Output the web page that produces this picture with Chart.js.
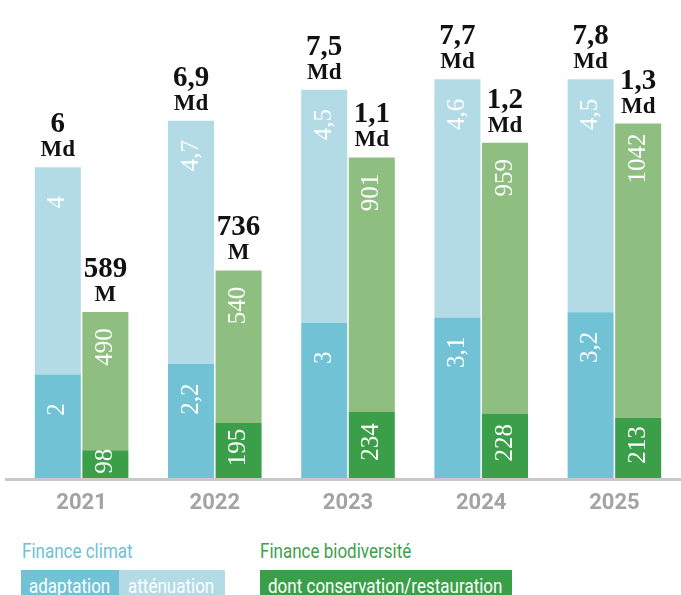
<!DOCTYPE html>
<html><head><meta charset="utf-8">
<script src="https://cdn.jsdelivr.net/npm/chart.js@4.4.1/dist/chart.umd.min.js"></script>
<style>
html,body{margin:0;padding:0;background:#fff;width:681px;height:595px;overflow:hidden;position:relative}
#c{position:absolute;left:0;top:0}
.t{position:absolute;font-family:Roboto;font-size:21px;line-height:21px;white-space:nowrap;transform:scaleX(0.81);transform-origin:0 0}
.box{position:absolute;top:570px;height:30px;overflow:hidden}
</style></head><body>
<canvas id="c" width="681" height="525"></canvas>
<div class="t" style="left:22px;top:541px;color:#6dc1d6">Finance climat</div>
<div class="t" style="left:260px;top:541px;color:#3e9f4c">Finance biodiversité</div>
<div class="box" style="left:21px;width:98px;background:#72c2d6"><div class="t" style="left:8px;top:6px;color:#fff">adaptation</div></div>
<div class="box" style="left:119px;width:106px;background:#b3dbe5"><div class="t" style="left:9px;top:6px;color:#fff">atténuation</div></div>
<div class="box" style="left:260px;width:252px;background:#3a9f48"><div class="t" style="left:8px;top:6px;color:#fff">dont conservation/restauration</div></div>
<script>
const years = ['2021','2022','2023','2024','2025'];
// Finance climat (Md)
const adaptation = [2, 2.2, 3, 3.1, 3.2];
const attenuation = [4, 4.7, 4.5, 4.6, 4.5];
const climatTotal = ['6','6,9','7,5','7,7','7,8'];
const climatUnit = ['Md','Md','Md','Md','Md'];
// Finance biodiversité (M)
const conservation = [98, 195, 234, 228, 213];
const bioAutre = [490, 540, 901, 959, 1042];
const bioTotal = ['589','736','1,1','1,2','1,3'];
const bioUnit = ['M','M','Md','Md','Md'];

const fmt = v => String(v).replace('.', ',');

const labelPlugin = {
  id: 'labels',
  afterDatasetsDraw(chart) {
    const ctx = chart.ctx;
    ctx.save();
    ctx.fillStyle = '#c8c8c8';
    ctx.fillRect(5, chart.chartArea.bottom, chart.width - 5, 3);
    chart.data.datasets.forEach((ds, di) => {
      const meta = chart.getDatasetMeta(di);
      meta.data.forEach((bar, i) => {
        const top = Math.min(bar.y, bar.base), bottom = Math.max(bar.y, bar.base);
        const cy = ds.labelPos === 'center' ? (top + bottom) / 2 - 3 : top + 35;
        ctx.save();
        ctx.translate(bar.x, cy);
        ctx.rotate(-Math.PI / 2);
        ctx.font = '25px "Liberation Serif"';
        ctx.fillStyle = '#fff';
        ctx.textAlign = 'center';
        ctx.textBaseline = 'middle';
        ctx.fillText(fmt(ds.data[i]), 0, 0);
        ctx.restore();
      });
    });
    const drawTotals = (di, totals, units) => {
      const meta = chart.getDatasetMeta(di);
      meta.data.forEach((bar, i) => {
        const top = Math.min(bar.y, bar.base);
        ctx.fillStyle = '#111';
        ctx.textAlign = 'center';
        ctx.textBaseline = 'alphabetic';
        ctx.font = 'bold 29px "Liberation Serif"';
        ctx.fillText(totals[i], bar.x, top - 35);
        ctx.font = 'bold 23px "Liberation Serif"';
        ctx.fillText(units[i], bar.x, top - 11);
      });
    };
    drawTotals(1, climatTotal, climatUnit);
    drawTotals(3, bioTotal, bioUnit);
    ctx.restore();
  }
};

new Chart(document.getElementById('c'), {
  type: 'bar',
  data: {
    labels: years,
    datasets: [
      { label: 'adaptation', data: adaptation, stack: 'climat', yAxisID: 'y', backgroundColor: '#72c2d6' },
      { label: 'atténuation', data: attenuation, stack: 'climat', yAxisID: 'y', backgroundColor: '#b3dbe5' },
      { label: 'dont conservation/restauration', data: conservation, stack: 'bio', yAxisID: 'y2', backgroundColor: '#3a9f48', labelPos: 'center' },
      { label: 'biodiversité', data: bioAutre, stack: 'bio', yAxisID: 'y2', backgroundColor: '#8fbf80' }
    ]
  },
  options: {
    responsive: false,
    animation: false,
    devicePixelRatio: 1,
    layout: { padding: { left: 15, right: 0, top: 12, bottom: 0 } },
    categoryPercentage: 0.714,
    barPercentage: 0.968,
    plugins: { legend: { display: false }, tooltip: { enabled: false } },
    scales: {
      x: {
        stacked: true,
        grid: { display: false, drawTicks: false },
        border: { display: false },
        ticks: { color: '#a3a3a3', font: { family: 'Roboto', weight: 'bold', size: 22 }, padding: 12 },
        afterFit(scale) { scale.height = 47; }
      },
      y: { stacked: true, display: false, min: 0, max: 9 },
      y2: { stacked: true, display: false, min: 0, max: 1650 }
    }
  },
  plugins: [labelPlugin]
});
</script>
</body></html>
